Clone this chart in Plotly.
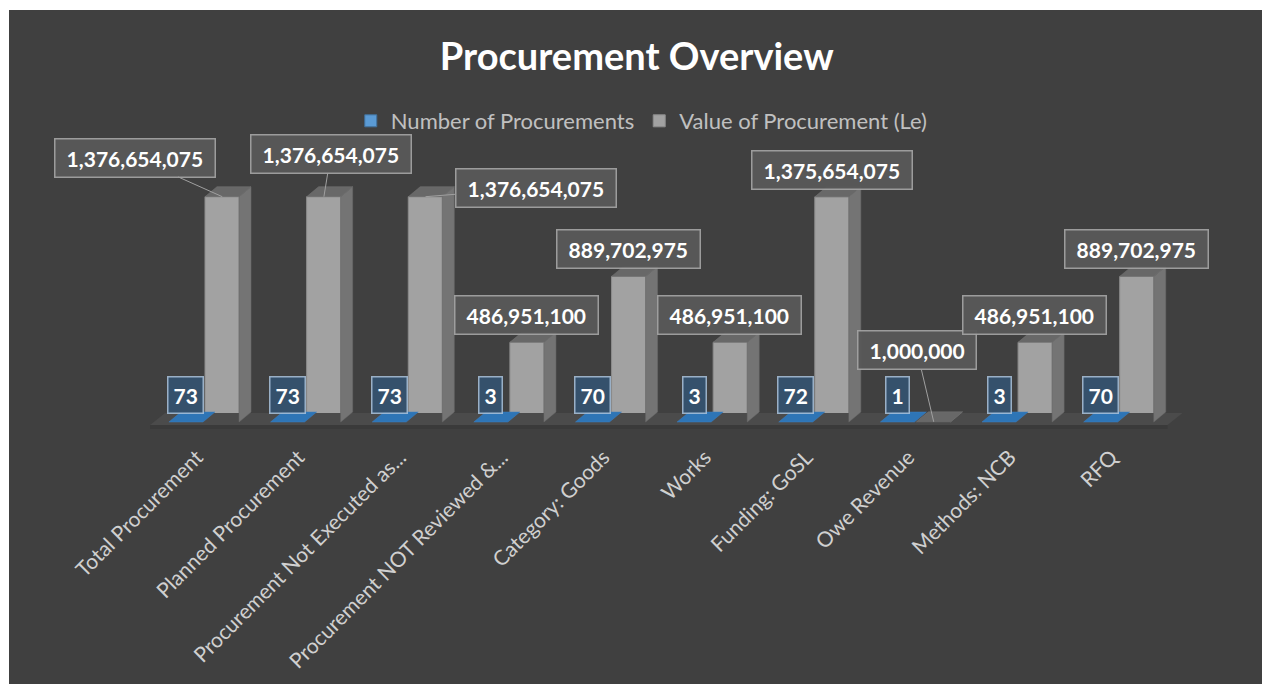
import plotly.graph_objects as go

# ---------------- data ----------------
categories = [
    "Total Procurement",
    "Planned Procurement",
    "Procurement Not Executed as...",
    "Procurement NOT Reviewed &...",
    "Category: Goods",
    "Works",
    "Funding: GoSL",
    "Owe Revenue",
    "Methods: NCB",
    "RFQ",
]
num_procurements = [73, 73, 73, 3, 70, 3, 72, 1, 3, 70]
value_procurement = [1376654075, 1376654075, 1376654075, 486951100, 889702975,
                     486951100, 1375654075, 1000000, 486951100, 889702975]
series_names = ["Number of Procurements", "Value of Procurement (Le)"]

# label placement (pixel offsets of the callout box; None = just above bar)
label_offsets = [(-87, -39), (7, -43), (110, -9), None, None, None, None, (-17, -72), None, None]

# ---------------- geometry / style ----------------
FIG_W, FIG_H = 1253, 674
M_L, M_R, M_T, M_B = 134, 62, 140, 244
PLOT_W = FIG_W - M_L - M_R
PLOT_H = FIG_H - M_T - M_B
X_RANGE = [-0.6, 9.8]
PX_PER_X = PLOT_W / (X_RANGE[1] - X_RANGE[0])
VAL_PER_PX = max(value_procurement) / 225.3
FLOOR_PX = 272  # px from plot top to floor
Y_RANGE = [-(PLOT_H - FLOOR_PX) * VAL_PER_PX, FLOOR_PX * VAL_PER_PX]

DX = 12 / PX_PER_X        # depth x
DY = 10 * VAL_PER_PX      # depth y
BAR_W = 0.335
GREY_X0 = 0.01
BLUE_X0 = -0.345
TICK_SHIFT = -0.07

BG = "#404040"
GREY_FRONT = "#a2a2a2"
GREY_SIDE = "#747474"
GREY_TOP = "#686868"
BLUE_TOP = "#2e75b6"
FONT = "Lato"

fig = go.Figure()

# floor
n = len(categories)
fx0, fx1 = -0.53, (n - 1) + 0.48
fdx = 15 / PX_PER_X
fig.add_trace(go.Scatter(
    x=[fx0, fx1, fx1 + fdx, fx0 + fdx, fx0],
    y=[-3 * VAL_PER_PX, -3 * VAL_PER_PX, 9 * VAL_PER_PX, 9 * VAL_PER_PX, -3 * VAL_PER_PX],
    fill="toself", fillcolor="#4b4b4b", line=dict(width=0), mode="lines",
    hoverinfo="skip", showlegend=False))
fig.add_trace(go.Scatter(
    x=[fx0, fx1, fx1, fx0, fx0],
    y=[-3 * VAL_PER_PX, -3 * VAL_PER_PX, -7 * VAL_PER_PX, -7 * VAL_PER_PX, -3 * VAL_PER_PX],
    fill="toself", fillcolor="#3a3a3a", line=dict(width=0), mode="lines",
    hoverinfo="skip", showlegend=False))

# blue series (front faces are flat at this scale)
fig.add_trace(go.Bar(
    x=[i + BLUE_X0 + BAR_W / 2 for i in range(n)], y=num_procurements, width=BAR_W,
    name=series_names[0], marker=dict(color="#5b9bd5", line=dict(color="#41719c", width=1)),
    hoverinfo="skip"))
bx, by = [], []
for i, v in enumerate(num_procurements):
    yv = v
    x0 = i + BLUE_X0
    x1 = x0 + BAR_W
    bx += [x0, x1, x1 + DX, x0 + DX, x0, None]
    by += [yv, yv, yv + DY, yv + DY, yv, None]
fig.add_trace(go.Scatter(x=bx, y=by, fill="toself", fillcolor=BLUE_TOP,
                         line=dict(width=0.5, color="#3f7fbf"), mode="lines",
                         hoverinfo="skip", showlegend=False))

# grey series
fig.add_trace(go.Bar(
    x=[i + GREY_X0 + BAR_W / 2 for i in range(n)], y=value_procurement, width=BAR_W,
    name=series_names[1], marker=dict(color=GREY_FRONT, line=dict(color="#8c8c8c", width=1)),
    hoverinfo="skip"))
sx, sy, tx, ty = [], [], [], []
for i, v in enumerate(value_procurement):
    x0 = i + GREY_X0
    x1 = x0 + BAR_W
    sx += [x1, x1 + DX, x1 + DX, x1, x1, None]
    sy += [0, DY, v + DY, v, 0, None]
    tx += [x0, x1, x1 + DX, x0 + DX, x0, None]
    ty += [v, v, v + DY, v + DY, v, None]
fig.add_trace(go.Scatter(x=sx, y=sy, fill="toself", fillcolor=GREY_SIDE,
                         line=dict(width=0.5, color="#6a6a6a"), mode="lines",
                         hoverinfo="skip", showlegend=False))
fig.add_trace(go.Scatter(x=tx, y=ty, fill="toself", fillcolor=GREY_TOP,
                         line=dict(width=0.5, color="#777777"), mode="lines",
                         hoverinfo="skip", showlegend=False))

# blue data labels
for i, v in enumerate(num_procurements):
    fig.add_annotation(
        x=i + BLUE_X0 + BAR_W / 2, y=0, yanchor="bottom", yshift=8,
        text=f"{v:,}", showarrow=False,
        font=dict(family=FONT, size=21, color="white", weight="bold"),
        bgcolor="rgba(52,82,112,0.92)", bordercolor="rgba(170,195,220,0.85)",
        borderwidth=1.5, borderpad=5)

# grey data labels
for i, v in enumerate(value_procurement):
    common = dict(text="\u00a0" + f"{v:,}" + "\u00a0",
                  font=dict(family=FONT, size=21, color="white", weight="bold"),
                  bgcolor="rgba(88,88,88,0.96)", bordercolor="rgba(165,165,165,0.9)",
                  borderwidth=1.5, borderpad=6)
    off = label_offsets[i]
    if off is None:
        fig.add_annotation(x=i + 0.175, y=v, yanchor="bottom", yshift=7,
                           showarrow=False, **common)
    else:
        fig.add_annotation(x=i + 0.18, y=v, ax=off[0], ay=off[1], showarrow=True,
                           arrowhead=0, arrowwidth=1, arrowcolor="#a0a0a0", **common)

fig.update_layout(
    width=FIG_W, height=FIG_H,
    margin=dict(l=M_L, r=M_R, t=M_T, b=M_B, pad=0, autoexpand=False),
    paper_bgcolor=BG, plot_bgcolor=BG,
    barmode="overlay",
    title=dict(text="Procurement Overview", x=0.501, xref="container", xanchor="center",
               y=1 - 47 / FIG_H, yref="container", yanchor="middle",
               font=dict(family=FONT, size=38, color="white", weight="bold")),
    legend=dict(orientation="h", x=0.505, xref="container", xanchor="center",
                y=1 - 111 / FIG_H, yref="container", yanchor="middle",
                font=dict(family=FONT, size=22, color="#c0c0c0"),
                bgcolor="rgba(0,0,0,0)", itemclick=False),
    xaxis=dict(range=X_RANGE, tickvals=[i + TICK_SHIFT for i in range(n)], ticktext=categories,
               tickangle=-45, showgrid=False, zeroline=False, showline=False,
               automargin=False,
               ticks="", tickfont=dict(family=FONT, size=21, color="#d0d0d0")),
    yaxis=dict(range=Y_RANGE, visible=False, showgrid=False, zeroline=False,
               automargin=False),
    showlegend=True,
)

fig.write_html("out.html",
               post_script="document.body.style.margin='10px 0 0 9px';"
                           "document.documentElement.style.overflow='hidden';"
                           "document.body.style.overflow='hidden';")
